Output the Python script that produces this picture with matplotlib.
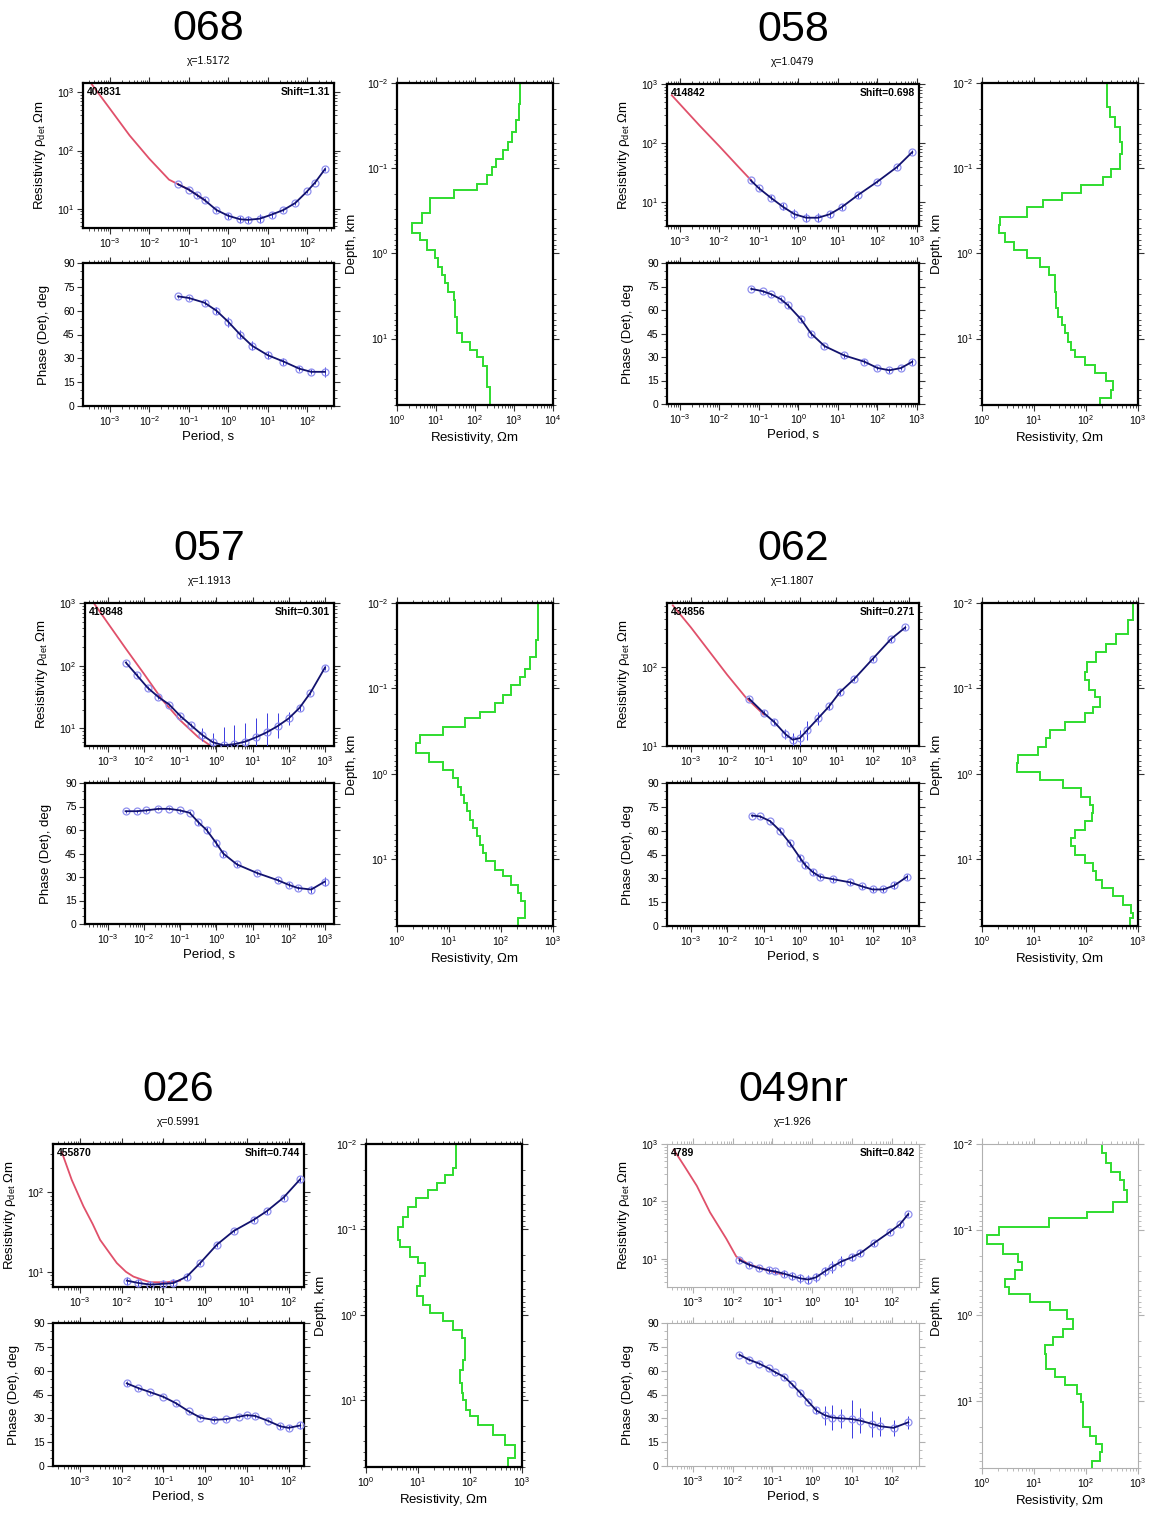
import numpy as np
import matplotlib
matplotlib.use("Agg")
import matplotlib.pyplot as plt
from matplotlib.ticker import LogLocator, MultipleLocator, NullFormatter, FixedLocator

plt.rcParams['font.family'] = ['Liberation Sans', 'DejaVu Sans']
plt.rcParams['mathtext.default'] = 'regular'

W, H = 1153, 1515

# --- DATA (log10 values: period s, resistivity Ohm.m, depth km) ---
# station 068
t068_red = [-3.46, -3.0, -2.5, -2.0, -1.5, -1.0, -0.6]
r068_red = [3.14, 2.72, 2.26, 1.86, 1.50, 1.33, 1.15]
t068 = [-1.27, -1.0, -0.8, -0.6, -0.3, 0.0, 0.3, 0.5, 0.8, 1.1, 1.4, 1.7, 2.0, 2.2, 2.45]
r068 = [1.42, 1.33, 1.24, 1.15, 0.98, 0.88, 0.82, 0.81, 0.83, 0.90, 0.98, 1.10, 1.30, 1.45, 1.68]
e068 = [0.02, 0.02, 0.03, 0.03, 0.04, 0.05, 0.06, 0.06, 0.08, 0.05, 0.04, 0.04, 0.03, 0.03, 0.03]
tp068 = [-1.27, -1.0, -0.6, -0.3, 0.0, 0.3, 0.6, 1.0, 1.4, 1.8, 2.1, 2.45]
p068 = [69, 68, 65, 60, 53, 45, 38, 32, 28, 23.5, 21.5, 21.5]
ep068 = [1, 1, 1.5, 2, 3, 3, 3, 2.5, 2, 1.5, 1.5, 3]
dz068 = [-2.0, -1.758, -1.563, -1.426, -1.309, -1.211, -1.113, -1.016, -0.918, -0.820,
         -0.742, -0.645, -0.469, -0.352, -0.234, -0.156, -0.039, 0.059, 0.156, 0.254,
         0.352, 0.449, 0.547, 0.742, 0.938, 1.035, 1.133, 1.211, 1.328, 1.563, 1.777]
rz068 = [3.15, 3.12, 3.05, 2.96, 2.85, 2.72, 2.55, 2.43, 2.30, 2.04, 1.45, 0.85, 0.64, 0.38,
         0.60, 0.77, 0.98, 1.06, 1.15, 1.23, 1.32, 1.45, 1.49, 1.53, 1.66, 1.87, 2.04, 2.21,
         2.30, 2.38]

# station 058
t058_red = [-3.2, -2.5, -2.0, -1.5, -1.19]
r058_red = [2.81, 2.30, 1.95, 1.59, 1.37]
t058 = [-1.2, -1.0, -0.7, -0.4, -0.1, 0.2, 0.5, 0.8, 1.1, 1.5, 2.0, 2.5, 2.88]
r058 = [1.37, 1.24, 1.08, 0.93, 0.80, 0.74, 0.74, 0.80, 0.92, 1.12, 1.35, 1.60, 1.85]
e058 = [0.02, 0.03, 0.04, 0.06, 0.08, 0.08, 0.08, 0.06, 0.05, 0.04, 0.03, 0.03, 0.03]
tp058 = [-1.19, -0.9, -0.68, -0.45, -0.26, 0.07, 0.32, 0.66, 1.16, 1.67, 2.0, 2.3, 2.6, 2.88]
p058 = [73.5, 72, 70, 67, 63, 54, 45, 37, 31, 27, 23, 21.5, 23, 27]
ep058 = [1, 1, 1, 1, 1.5, 1.5, 1.5, 1.5, 1.5, 1.5, 1.5, 1.5, 1.5, 2]
dz058 = [-2.0, -1.719, -1.602, -1.484, -1.309, -1.172, -0.996, -0.898, -0.801, -0.703,
         -0.625, -0.547, -0.430, -0.332, -0.234, -0.137, -0.039, 0.059, 0.156, 0.254,
         0.449, 0.645, 0.742, 0.840, 0.938, 1.035, 1.133, 1.211, 1.309, 1.406, 1.504,
         1.602, 1.699, 1.777]
rz058 = [2.41, 2.46, 2.55, 2.65, 2.70, 2.65, 2.49, 2.33, 1.91, 1.53, 1.18, 0.86, 0.35, 0.32,
         0.45, 0.61, 0.86, 1.12, 1.28, 1.40, 1.42, 1.47, 1.53, 1.60, 1.66, 1.72, 1.79, 1.98,
         2.17, 2.39, 2.52, 2.49, 2.27]

# station 057
t057_red = [-3.4, -3.0, -2.5, -2.0, -1.5, -1.0, -0.5, -0.2]
r057_red = [3.01, 2.68, 2.27, 1.87, 1.46, 1.13, 0.86, 0.74]
t057 = [-2.5, -2.2, -1.9, -1.6, -1.3, -1.0, -0.7, -0.4, -0.1, 0.2, 0.5, 0.8, 1.1, 1.4, 1.7,
        2.0, 2.3, 2.6, 3.0]
r057 = [2.05, 1.85, 1.65, 1.50, 1.38, 1.20, 1.05, 0.90, 0.78, 0.73, 0.75, 0.79, 0.86, 0.94,
        1.04, 1.16, 1.33, 1.57, 1.97]
e057 = [0.03, 0.03, 0.03, 0.03, 0.03, 0.03, 0.03, 0.10, 0.15, 0.30, 0.30, 0.30, 0.30, 0.30,
        0.20, 0.10, 0.05, 0.04, 0.04]
tp057 = [-2.51, -2.2, -1.95, -1.6, -1.3, -1.0, -0.74, -0.5, -0.27, 0.0, 0.19, 0.57, 1.13,
         1.69, 2.0, 2.25, 2.62, 2.99]
p057 = [72, 72, 72.5, 73.5, 73.5, 72.5, 71, 65, 60, 51.5, 45, 38, 32.5, 28, 25, 23, 22, 27]
ep057 = [1, 1, 1, 1, 1, 1, 1, 1.5, 2, 2, 2, 1.5, 1.5, 1.5, 1.5, 1.5, 2, 3]
dz057 = [-2.0, -1.564, -1.370, -1.233, -1.136, -1.039, -0.922, -0.825, -0.728, -0.650,
         -0.553, -0.455, -0.358, -0.241, -0.144, -0.047, 0.051, 0.148, 0.245, 0.342, 0.440,
         0.537, 0.634, 0.732, 0.829, 0.926, 1.023, 1.121, 1.198, 1.296, 1.393, 1.490, 1.685,
         1.774]
rz057 = [2.71, 2.67, 2.55, 2.46, 2.36, 2.20, 2.04, 1.88, 1.60, 1.31, 0.89, 0.45, 0.37, 0.61,
         0.89, 1.08, 1.18, 1.24, 1.29, 1.34, 1.40, 1.47, 1.53, 1.60, 1.65, 1.71, 1.88, 2.04,
         2.20, 2.33, 2.39, 2.46, 2.33]

# station 062
t062_red = [-3.5, -3.0, -2.5, -2.0, -1.5, -1.0]
r062_red = [2.78, 2.50, 2.20, 1.90, 1.62, 1.40]
t062 = [-1.4, -1.0, -0.7, -0.4, -0.2, 0.0, 0.2, 0.5, 0.8, 1.1, 1.5, 2.0, 2.5, 2.9]
r062 = [1.60, 1.42, 1.30, 1.15, 1.08, 1.10, 1.20, 1.35, 1.50, 1.68, 1.85, 2.10, 2.35, 2.50]
e062 = [0.02, 0.03, 0.04, 0.06, 0.08, 0.10, 0.12, 0.08, 0.05, 0.04, 0.03, 0.03, 0.03, 0.03]
tp062 = [-1.32, -1.1, -0.82, -0.55, -0.27, 0.0, 0.14, 0.35, 0.55, 0.9, 1.38, 1.7, 2.0, 2.3,
         2.6, 2.95]
p062 = [69.5, 69, 66, 60, 52, 43, 38.5, 34, 31, 29.5, 27.5, 25, 23, 23, 25.5, 31]
ep062 = [1, 1, 1, 1.5, 1.5, 2, 2, 2, 1.5, 1.5, 1.5, 1.5, 1.5, 1.5, 2, 2]
dz062 = [-2.0, -1.798, -1.642, -1.525, -1.428, -1.311, -1.195, -1.097, -0.981, -0.903,
         -0.786, -0.708, -0.611, -0.514, -0.416, -0.319, -0.222, -0.125, -0.027, 0.070,
         0.167, 0.265, 0.362, 0.459, 0.556, 0.654, 0.751, 0.848, 0.946, 1.043, 1.140, 1.237,
         1.335, 1.432, 1.529, 1.626, 1.685, 1.763]
rz062 = [2.90, 2.81, 2.58, 2.39, 2.20, 2.01, 1.98, 2.06, 2.17, 2.27, 2.14, 1.98, 1.60, 1.31,
         1.24, 1.08, 0.70, 0.67, 1.12, 1.56, 1.91, 2.07, 2.14, 2.11, 1.98, 1.79, 1.72, 1.79,
         1.98, 2.14, 2.20, 2.30, 2.52, 2.71, 2.87, 2.90, 2.84]

# station 026
t026_red = [-3.44, -3.2, -2.92, -2.7, -2.52, -2.3, -2.12, -1.9, -1.72, -1.5, -1.32, -0.92, -0.6]
r026_red = [2.5, 2.15, 1.82, 1.6, 1.4, 1.24, 1.11, 1.0, 0.94, 0.9, 0.87, 0.87, 0.89]
t026 = [-1.88, -1.6, -1.32, -1.0, -0.76, -0.44, -0.12, 0.28, 0.68, 1.16, 1.48, 1.88, 2.28]
r026 = [0.89, 0.86, 0.84, 0.85, 0.86, 0.94, 1.11, 1.34, 1.51, 1.65, 1.76, 1.93, 2.16]
e026 = [0.05, 0.05, 0.05, 0.05, 0.05, 0.04, 0.03, 0.03, 0.03, 0.03, 0.03, 0.03, 0.04]
tp026 = [-1.88, -1.6, -1.32, -1.0, -0.7, -0.4, -0.12, 0.2, 0.5, 0.8, 1.0, 1.2, 1.5, 1.8, 2.0,
         2.28]
p026 = [52, 49, 46.5, 43.5, 39.5, 34.5, 30.5, 29, 29.5, 31, 32, 31.5, 28.5, 25, 24, 25.5]
ep026 = [1.5, 1, 1, 1, 1, 1, 1, 1, 1, 1, 1, 1, 1, 1.5, 1.5, 2]
dz026 = [-2.0, -1.716, -1.638, -1.540, -1.462, -1.365, -1.268, -1.151, -1.034, -0.878,
         -0.800, -0.683, -0.605, -0.450, -0.333, -0.216, -0.118, -0.021, 0.076, 0.174, 0.271,
         0.524, 0.641, 0.797, 0.914, 0.992, 1.109, 1.187, 1.284, 1.401, 1.518, 1.674, 1.771]
rz026 = [1.74, 1.68, 1.52, 1.36, 1.20, 0.97, 0.81, 0.72, 0.62, 0.65, 0.84, 1.00, 1.13, 1.04,
         0.99, 1.10, 1.23, 1.48, 1.68, 1.84, 1.90, 1.87, 1.80, 1.84, 1.87, 1.93, 2.00, 2.16,
         2.44, 2.67, 2.86, 2.73]

# station 049nr
t049_red = [-3.48, -3.2, -2.9, -2.57, -2.16, -1.91, -1.58, -1.17, -0.76]
r049_red = [2.9, 2.6, 2.27, 1.81, 1.35, 1.04, 0.9, 0.81, 0.73]
t049 = [-1.83, -1.6, -1.34, -1.1, -0.93, -0.7, -0.51, -0.3, -0.1, 0.1, 0.31, 0.5, 0.72, 1.0,
        1.21, 1.54, 1.95, 2.2, 2.41]
r049 = [0.98, 0.90, 0.84, 0.80, 0.78, 0.74, 0.70, 0.66, 0.64, 0.68, 0.78, 0.86, 0.95, 1.03,
        1.10, 1.27, 1.47, 1.60, 1.78]
e049 = [0.04, 0.04, 0.04, 0.05, 0.05, 0.06, 0.07, 0.08, 0.08, 0.08, 0.08, 0.10, 0.10, 0.06,
        0.05, 0.04, 0.04, 0.04, 0.04]
tp049 = [-1.83, -1.6, -1.34, -1.1, -0.93, -0.7, -0.51, -0.3, -0.1, 0.1, 0.31, 0.5, 0.72, 1.0,
         1.21, 1.5, 1.71, 2.04, 2.41]
p049 = [70, 67, 64.5, 61.5, 59, 56, 51.5, 46, 40.5, 35, 32, 30.5, 30, 29.5, 28.5, 26.5, 25,
        24, 27.5]
ep049 = [1, 1, 1, 1, 1, 1, 1, 1, 1, 2, 6, 8, 6, 12, 8, 8, 6, 5, 4]
dz049 = [-2.0, -1.891, -1.774, -1.677, -1.579, -1.462, -1.326, -1.209, -1.131, -1.034,
         -0.936, -0.839, -0.722, -0.625, -0.527, -0.430, -0.333, -0.255, -0.157, -0.060,
         0.037, 0.154, 0.252, 0.349, 0.446, 0.622, 0.719, 0.817, 0.914, 1.011, 1.304, 1.401,
         1.498, 1.596, 1.693, 1.790]
rz049 = [2.30, 2.38, 2.49, 2.65, 2.74, 2.79, 2.52, 2.01, 1.28, 0.32, 0.10, 0.41, 0.70, 0.77,
         0.64, 0.45, 0.51, 0.93, 1.31, 1.63, 1.75, 1.56, 1.37, 1.21, 1.24, 1.40, 1.60, 1.82,
         1.91, 1.95, 2.07, 2.20, 2.30, 2.27, 2.11]

names = ['068', '058', '057', '062', '026', '049nr']
chis = ['1.5172', '1.0479', '1.1913', '1.1807', '0.5991', '1.926']
site_ids = ['404831', '414842', '419848', '434856', '455870', '4789']
shifts = ['1.31', '0.698', '0.301', '0.271', '0.744', '0.842']

stations = [
    dict(tr=t068_red, rr=r068_red, t=t068, r=r068, e=e068, tp=tp068, p=p068, ep=ep068, dz=dz068, rz=rz068),
    dict(tr=t058_red, rr=r058_red, t=t058, r=r058, e=e058, tp=tp058, p=p058, ep=ep058, dz=dz058, rz=rz058),
    dict(tr=t057_red, rr=r057_red, t=t057, r=r057, e=e057, tp=tp057, p=p057, ep=ep057, dz=dz057, rz=rz057),
    dict(tr=t062_red, rr=r062_red, t=t062, r=r062, e=e062, tp=tp062, p=p062, ep=ep062, dz=dz062, rz=rz062),
    dict(tr=t026_red, rr=r026_red, t=t026, r=r026, e=e026, tp=tp026, p=p026, ep=ep026, dz=dz026, rz=rz026),
    dict(tr=t049_red, rr=r049_red, t=t049, r=r049, e=e049, tp=tp049, p=p049, ep=ep049, dz=dz049, rz=rz049),
]

# --- LAYOUT (pixels: left, top, right, bottom) and axis ranges (log10) ---
layout = [
    dict(rho=(83, 83, 334, 228), ph=(83, 263, 334, 406), dep=(397, 83, 553, 405),
         xl=(-3.68, 2.68), yl=(0.67, 3.16), dx=(0, 4), frame='k'),
    dict(rho=(667, 84, 919, 226), ph=(667, 263, 919, 404), dep=(982, 83, 1138, 405),
         xl=(-3.32, 3.05), yl=(0.6, 3.0), dx=(0, 3), frame='k'),
    dict(rho=(85, 603, 334, 746), ph=(85, 783, 334, 924), dep=(397, 603, 553, 926),
         xl=(-3.63, 3.25), yl=(0.72, 3.0), dx=(0, 3), frame='k'),
    dict(rho=(667, 603, 919, 746), ph=(667, 783, 919, 926), dep=(982, 603, 1138, 926),
         xl=(-3.66, 3.28), yl=(1.0, 2.81), dx=(0, 3), frame='k'),
    dict(rho=(53, 1144, 304, 1287), ph=(53, 1323, 304, 1466), dep=(366, 1144, 522, 1467),
         xl=(-3.65, 2.37), yl=(0.81, 2.6), dx=(0, 3), frame='k'),
    dict(rho=(667, 1144, 919, 1287), ph=(667, 1323, 919, 1466), dep=(982, 1144, 1138, 1468),
         xl=(-3.65, 2.68), yl=(0.51, 3.0), dx=(0, 3), frame='#b0b0b0'),
]


def box(l, t, r, b):
    return [l / W, 1 - b / H, (r - l) / W, (b - t) / H]


def style(ax, frame):
    lw = 1.6 if frame == 'k' else 0.8
    for s in ax.spines.values():
        s.set_linewidth(lw)
        s.set_color(frame)
    ax.tick_params(which='both', direction='out', top=True, right=True,
                   labelsize=7.5, pad=2, color=frame if frame != 'k' else '#333333')
    ax.tick_params(which='major', length=4, width=0.8)
    ax.tick_params(which='minor', length=2, width=0.6)


def log_axis(axis, lo, hi):
    # decade ticks only inside the visible range
    dec = np.arange(np.ceil(lo), np.floor(hi) + 1)
    axis.set_major_locator(FixedLocator(10.0 ** dec))
    axis.set_minor_locator(LogLocator(base=10, subs=np.arange(2, 10), numticks=20))
    axis.set_minor_formatter(NullFormatter())


def ylabel_at(ax, text, px):
    # place the y label centre a fixed number of pixels left of the frame
    ax.set_ylabel(text, fontsize=9.5)
    wpx = ax.get_position().width * W
    ax.yaxis.set_label_coords(-px / wpx, 0.5)


fig = plt.figure(figsize=(W / 100, H / 100), dpi=100)

blue_line = '#12126e'
circ = '#8f8fee'
err_col = '#3a3ae0'
red_line = '#e0506a'
green = '#2fdc2f'

for name, chi, sid, sh, st, lay in zip(names, chis, site_ids, shifts, stations, layout):
    fr = lay['frame']
    l, t, r, b = lay['rho']
    xc = (l + r) / 2
    fig.text(xc / W, 1 - (t - 54) / H, name, ha='center', va='center', fontsize=31)
    fig.text(xc / W, 1 - (t - 22) / H, '\u03c7=' + chi, ha='center', va='center', fontsize=7.5)

    # apparent resistivity
    ax = fig.add_axes(box(*lay['rho']))
    ax.set_xscale('log')
    ax.set_yscale('log')
    T = 10 ** np.array(st['t'])
    R = 10 ** np.array(st['r'])
    E = 10 ** np.array(st['e'])
    ax.plot(10 ** np.array(st['tr']), 10 ** np.array(st['rr']), color=red_line, lw=1.3, zorder=2)
    ax.errorbar(T, R, yerr=[R - R / E, R * E - R], fmt='none', ecolor=err_col, elinewidth=0.7, zorder=3)
    ax.plot(T, R, 'o', mfc='none', mec=circ, ms=5, mew=0.9, zorder=3)
    ax.plot(T, R, color=blue_line, lw=1.3, zorder=4)
    ax.set_xlim(10 ** lay['xl'][0], 10 ** lay['xl'][1])
    ax.set_ylim(10 ** lay['yl'][0], 10 ** lay['yl'][1])
    log_axis(ax.xaxis, *lay['xl'])
    log_axis(ax.yaxis, *lay['yl'])
    style(ax, fr)
    ylabel_at(ax, r'Resistivity $\rho_{det}$ $\Omega$m', 35)
    ax.text(0.015, 0.975, sid, transform=ax.transAxes, ha='left', va='top', fontsize=7.5,
            fontweight='bold')
    ax.text(0.985, 0.975, 'Shift=' + sh, transform=ax.transAxes, ha='right', va='top',
            fontsize=7.5, fontweight='bold')

    # phase
    ax = fig.add_axes(box(*lay['ph']))
    ax.set_xscale('log')
    Tp = 10 ** np.array(st['tp'])
    P = np.array(st['p'])
    ax.errorbar(Tp, P, yerr=st['ep'], fmt='none', ecolor=err_col, elinewidth=0.7, zorder=3)
    ax.plot(Tp, P, 'o', mfc='none', mec=circ, ms=5, mew=0.9, zorder=3)
    ax.plot(Tp, P, color=blue_line, lw=1.3, zorder=4)
    ax.set_xlim(10 ** lay['xl'][0], 10 ** lay['xl'][1])
    ax.set_ylim(0, 90)
    log_axis(ax.xaxis, *lay['xl'])
    ax.yaxis.set_major_locator(MultipleLocator(15))
    ax.yaxis.set_minor_locator(MultipleLocator(5))
    style(ax, fr)
    ylabel_at(ax, 'Phase (Det), deg', 33)
    ax.set_xlabel('Period, s', fontsize=9.5, labelpad=2)

    # 1D model
    ax = fig.add_axes(box(*lay['dep']))
    ax.set_xscale('log')
    ax.set_yscale('log')
    ax.stairs(10 ** np.array(st['rz']), 10 ** np.array(st['dz']), orientation='horizontal',
              baseline=None, color=green, lw=1.4)
    ax.set_xlim(10 ** lay['dx'][0], 10 ** lay['dx'][1])
    ax.set_ylim(10 ** 1.78, 10 ** -2)
    log_axis(ax.xaxis, *lay['dx'])
    log_axis(ax.yaxis, -2, 1.78)
    style(ax, fr)
    ylabel_at(ax, 'Depth, km', 39)
    ax.set_xlabel(r'Resistivity, $\Omega$m', fontsize=9.5, labelpad=2)

fig.savefig('out.png', dpi=100)
